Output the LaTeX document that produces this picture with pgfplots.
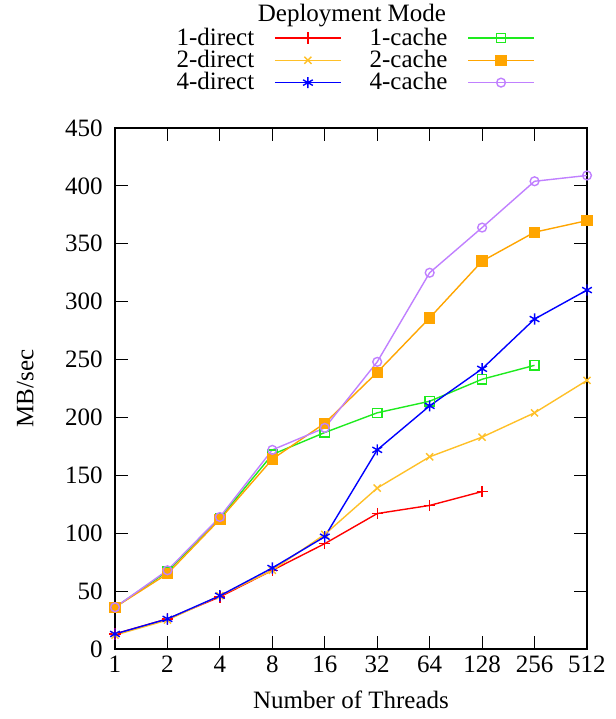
\documentclass[border=0pt]{standalone}
\usepackage{fontspec}
\setmainfont{Liberation Serif}
\usepackage{pgfplots}
\pgfplotsset{compat=1.18}

\definecolor{c1d}{RGB}{255,0,0}
\definecolor{c2d}{RGB}{255,192,40}
\definecolor{c4d}{RGB}{0,0,255}
\definecolor{c1c}{RGB}{30,235,30}
\definecolor{c2c}{RGB}{255,165,0}
\definecolor{c4c}{RGB}{192,128,255}

\begin{document}
\begin{tikzpicture}
\begin{axis}[
  name=ax,
  scale only axis,
  width=236pt, height=260.5pt,
  xmin=0, xmax=9, ymin=0, ymax=450,
  clip=false,
  xtick={0,...,9},
  xticklabels={1,2,4,8,16,32,64,128,256,512},
  ytick={0,50,...,450},
  font=\fontsize{12.5}{14}\selectfont,
  /pgf/number format/assume math mode=true,
  yticklabel style={xshift=-2.7pt},
  xlabel={Number of Threads},
  xlabel style={yshift=-2pt},
  ylabel={MB/sec},
  ylabel style={at={(axis description cs:-0.19,0.5)}, anchor=center},
  tick align=inside,
  major tick length=6.5pt,
  axis line style={line width=0.75pt},
  every tick/.style={black, line width=0.6pt},
  every axis plot/.append style={line width=0.7pt},
  legend columns=2,
  legend plot pos=right,
  legend cell align=right,
  legend image code/.code={
    \path (0pt,-3pt) (45pt,3pt);
    \draw[#1, mark=none, line width=0.75pt] (4pt,0pt) -- (37pt,0pt);
    \draw[#1, only marks] plot coordinates {(20.5pt,0pt)};
  },
  legend style={draw=none, fill=none, at={(rel axis cs:0.121,1.197)}, anchor=north west,
    font=\fontsize{12.5}{14}\selectfont, row sep=-1pt, column sep=4pt,
    inner sep=0pt, nodes={inner ysep=1pt}},
]
\addplot[c1d, mark=+, mark size=2.8pt] coordinates {
  (0,13)(1,26)(2,45)(3,68)(4,91)(5,117)(6,124)(7,136)};
\addlegendentry{1-direct}
\addplot[c1c, mark=square, mark size=2.3pt] coordinates {
  (0,36)(1,67)(2,113)(3,168)(4,187)(5,204)(6,214)(7,233)(8,245)};
\addlegendentry{1-cache}
\addplot[c2d, mark=x, mark size=2.5pt] coordinates {
  (0,12)(1,25)(2,46)(3,68)(4,99)(5,139)(6,166)(7,183)(8,204)(9,232)};
\addlegendentry{2-direct}
\addplot[c2c, mark=square*, mark size=2.5pt] coordinates {
  (0,36)(1,65)(2,112)(3,164)(4,195)(5,239)(6,286)(7,335)(8,360)(9,370)};
\addlegendentry{2-cache}
\addplot[c4d, mark=asterisk, mark size=2.8pt] coordinates {
  (0,13)(1,26)(2,46)(3,70)(4,97)(5,172)(6,210)(7,242)(8,285)(9,310)};
\addlegendentry{4-direct}
\addplot[c4c, mark=o, mark size=2.2pt] coordinates {
  (0,36)(1,68)(2,114)(3,172)(4,191)(5,248)(6,325)(7,364)(8,404)(9,409)};
\addlegendentry{4-cache}
\node[font=\fontsize{12.5}{14}\selectfont] at (rel axis cs:0.502,1.216) {Deployment Mode};
\end{axis}
\pgfresetboundingbox
\path[use as bounding box] ([xshift=-57.5pt,yshift=-35pt]ax.south west)
  rectangle ([xshift=14.5pt,yshift=64pt]ax.north east);
\end{tikzpicture}
\end{document}
